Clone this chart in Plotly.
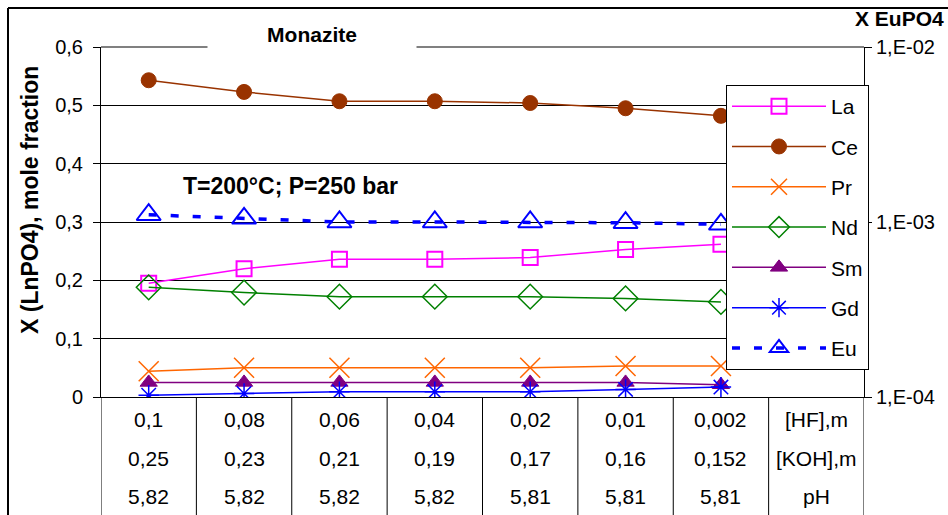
import plotly.graph_objects as go

hf = ["0,1", "0,08", "0,06", "0,04", "0,02", "0,01", "0,002"]
koh = ["0,25", "0,23", "0,21", "0,19", "0,17", "0,16", "0,152"]
ph = ["5,82", "5,82", "5,82", "5,82", "5,81", "5,81", "5,81"]
row_labels = ["[HF],m", "[KOH],m", "pH"]

la = [0.195, 0.220, 0.236, 0.236, 0.239, 0.253, 0.262]
ce = [0.543, 0.523, 0.507, 0.507, 0.504, 0.495, 0.482]
pr = [0.044, 0.050, 0.050, 0.050, 0.050, 0.053, 0.053]
nd = [0.188, 0.179, 0.172, 0.172, 0.172, 0.169, 0.163]
sm = [0.025, 0.025, 0.025, 0.025, 0.025, 0.025, 0.021]
gd = [0.003, 0.006, 0.009, 0.009, 0.009, 0.013, 0.017]
eu = [1.10e-3, 1.05e-3, 1.00e-3, 1.00e-3, 1.00e-3, 0.99e-3, 0.97e-3]

x = list(range(len(hf)))
FONT = "Liberation Sans, Arial, sans-serif"

fig = go.Figure()

def add(name, y, color, symbol, size, mlw=1.5, fill=None, dash=None, lw=1.5, yaxis="y"):
    fig.add_trace(go.Scatter(
        x=x, y=y, name=name, mode="lines+markers", yaxis=yaxis, legendgroup=name,
        line=dict(color=color, width=lw, dash=dash),
        marker=dict(symbol=symbol, size=size, color=fill if fill else color,
                    line=dict(color=color, width=mlw)),
    ))

add("La", la, "#FF00FF", "square-open", 15, mlw=2)
add("Ce", ce, "#993300", "circle", 15, mlw=1)
add("Pr", pr, "#FF6600", "x-thin-open", 20, mlw=1.5)
add("Nd", nd, "#008000", "diamond-open", 19, mlw=1.5)
add("Sm", sm, "#800080", "triangle-up", 15, mlw=1)
add("Gd", gd, "#0000FF", "asterisk-open", 17, mlw=1.5)
add("Eu", eu, "#0000FF", "triangle-up-open", 21, mlw=2, dash="8px,14px", lw=3.5, yaxis="y2")

L, R, T, B = 101, 84, 47, 118
W, H = 948, 515
pw, ph_ = W - L - R, H - T - B

def px(xp):
    return (xp - L) / pw

def py(yp):
    return (H - B - yp) / ph_

shapes = []
for i in range(len(hf) + 2):
    shapes.append(dict(type="line", xref="x", yref="paper", x0=i - 0.5, x1=i - 0.5,
                       y0=0, y1=py(530), line=dict(color="black", width=1)))
shapes.append(dict(type="line", xref="paper", yref="paper", x0=0, x1=1, y0=1, y1=1,
                   line=dict(color="#808080", width=2)))
shapes.append(dict(type="line", xref="paper", yref="paper", x0=px(8), x1=px(960), y0=py(8), y1=py(8),
                   line=dict(color="black", width=2)))
shapes.append(dict(type="line", xref="paper", yref="paper", x0=px(8), x1=px(8), y0=py(8), y1=py(530),
                   line=dict(color="black", width=2)))

ann = []
rows_y = [420, 458, 496]
TS = 21
for row, yy in zip([hf, koh, ph], rows_y):
    for i, t in enumerate(row):
        ann.append(dict(x=i, xref="x", y=py(yy), yref="paper", text=t, showarrow=False,
                        xanchor="center", yanchor="middle",
                        font=dict(size=TS, color="black", family=FONT)))
for lab, yy in zip(row_labels, rows_y):
    ann.append(dict(x=len(hf), xref="x", y=py(yy), yref="paper", text=lab, showarrow=False,
                    xanchor="center", yanchor="middle",
                    font=dict(size=TS, color="black", family=FONT)))

ann.append(dict(x=px(312), y=py(21), xref="paper", yref="paper", xanchor="center", yanchor="top",
                text="<b>Monazite</b>", showarrow=False, bgcolor="white", width=206, height=30,
                valign="top", font=dict(size=21, color="black", family=FONT)))
ann.append(dict(x=px(290), y=py(186), xref="paper", yref="paper", xanchor="center", yanchor="middle",
                text="<b>T=200°C; P=250 bar</b>", showarrow=False,
                font=dict(size=23, color="black", family=FONT)))
ann.append(dict(x=px(30), y=py(200), xref="paper", yref="paper", xanchor="center", yanchor="middle",
                text="<b>X (LnPO4), mole fraction</b>", textangle=-90, showarrow=False,
                font=dict(size=23, color="black", family=FONT)))
ann.append(dict(x=px(946), y=py(19), xref="paper", yref="paper", xanchor="right", yanchor="middle",
                text="<b>X EuPO4</b>", showarrow=False, font=dict(size=21, color="black", family=FONT)))

fig.update_layout(
    width=W, height=H, margin=dict(l=L, r=R, t=T, b=B),
    paper_bgcolor="white", plot_bgcolor="white",
    separators=", ",
    font=dict(family=FONT, color="black"),
    showlegend=True,
    legend=dict(x=px(726), y=py(85), xanchor="left", yanchor="top",
                bgcolor="white", bordercolor="black", borderwidth=1,
                font=dict(size=21, family=FONT, color="black"),
                tracegroupgap=10, itemwidth=94),
    xaxis=dict(range=[-0.5, len(hf) + 0.5], showticklabels=False, showgrid=False, zeroline=False,
               showline=True, linecolor="black", linewidth=1, ticks=""),
    yaxis=dict(range=[0, 0.6], showgrid=True, gridcolor="black", gridwidth=1,
               zeroline=False, showline=True, linecolor="black", linewidth=1,
               ticks="outside", ticklen=7, tickcolor="black", ticklabelstandoff=6,
               tickvals=[0, 0.1, 0.2, 0.3, 0.4, 0.5, 0.6],
               ticktext=["0", "0,1", "0,2", "0,3", "0,4", "0,5", "0,6"],
               tickfont=dict(size=20, family=FONT, color="black")),
    yaxis2=dict(type="log", range=[-4, -2], overlaying="y", side="right", showgrid=False,
                zeroline=False, showline=True, linecolor="black", linewidth=1,
                ticks="outside", ticklen=7, tickcolor="black",
                tickvals=[1e-4, 1e-3, 1e-2], ticktext=["1,E-04", "1,E-03", "1,E-02"],
                tickfont=dict(size=20, family=FONT, color="black")),
    shapes=shapes, annotations=ann,
)

fig.write_html("out.html")
